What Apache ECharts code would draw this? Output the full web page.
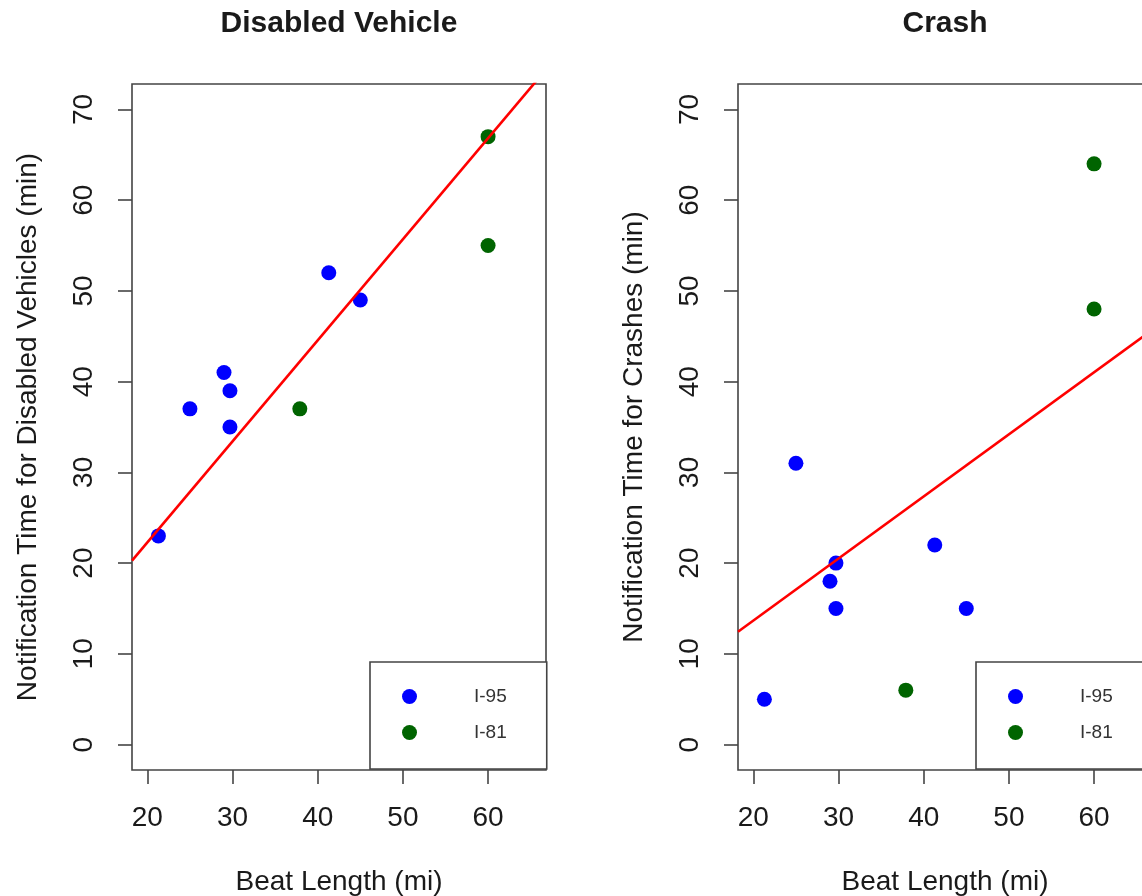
<!DOCTYPE html>
<html>
<head>
<meta charset="utf-8">
<title>Notification Time vs Beat Length</title>
<script src="https://cdn.jsdelivr.net/npm/echarts@6/dist/echarts.min.js"></script>
<style>
  html, body { margin: 0; padding: 0; background: #ffffff; }
  #chart { width: 1142px; height: 896px; }
</style>
</head>
<body>
<div id="chart"></div>
<script>
// Beat-level observations (one entry per patrol beat)
const beatLength   = [21.3, 25, 29, 29.7, 29.7, 41.3, 45, 37.9, 60, 60];
const route        = ['I-95', 'I-95', 'I-95', 'I-95', 'I-95', 'I-95', 'I-95', 'I-81', 'I-81', 'I-81'];
const disabledTime = [23, 37, 41, 39, 35, 52, 49, 37, 67, 55];
const crashTime    = [5, 31, 18, 20, 15, 22, 15, 6, 64, 48];

// Axis limits and tick labels
const xLimits = [20, 65];
const yLimits = [0, 70];
const xTicks = [20, 30, 40, 50, 60];
const yTicks = [0, 10, 20, 30, 40, 50, 60, 70];

const routes = ['I-95', 'I-81'];
const routeColors = { 'I-95': '#0000ff', 'I-81': '#006400' };

const panels = [
  { title: 'Disabled Vehicle', yName: 'Notification Time for Disabled Vehicles (min)', values: disabledTime, left: 132 },
  { title: 'Crash', yName: 'Notification Time for Crashes (min)', values: crashTime, left: 738 }
];

const FONT = '"Liberation Sans", Arial, Helvetica, sans-serif';
const INK = '#1a1a1a';
const FRAME = '#444444';
const PLOT_TOP = 84, PLOT_W = 414, PLOT_H = 686;

// Pad limits by 4% on each side, like a classic statistics plot
function padded(lim) {
  const d = (lim[1] - lim[0]) * 0.04;
  return [lim[0] - d, lim[1] + d];
}
const xRange = padded(xLimits);
const yRange = padded(yLimits);

// Least-squares slope for a line through the origin
function originSlope(xs, ys) {
  let sxy = 0, sxx = 0;
  for (let i = 0; i < xs.length; i++) { sxy += xs[i] * ys[i]; sxx += xs[i] * xs[i]; }
  return sxy / sxx;
}

const grids = [], xAxes = [], yAxes = [], series = [], titles = [], legends = [];

panels.forEach((p, gi) => {
  grids.push({
    left: p.left, top: PLOT_TOP, width: PLOT_W, height: PLOT_H,
    containLabel: false, outerBoundsMode: 'none',
    show: true, borderColor: FRAME, borderWidth: 1.6, backgroundColor: 'transparent'
  });
  xAxes.push({
    type: 'value', gridIndex: gi, min: xRange[0], max: xRange[1], position: 'bottom',
    name: 'Beat Length (mi)', nameLocation: 'middle', nameGap: 98,
    nameTextStyle: { fontFamily: FONT, fontSize: 28, color: INK },
    axisLine: { show: false, onZero: false },
    splitLine: { show: false },
    axisTick: { show: true, inside: false, length: 14, customValues: xTicks, lineStyle: { color: FRAME, width: 1.6 } },
    axisLabel: { customValues: xTicks, margin: 34, fontFamily: FONT, fontSize: 28, color: INK }
  });
  yAxes.push({
    type: 'value', gridIndex: gi, min: yRange[0], max: yRange[1], position: 'left',
    name: p.yName, nameLocation: 'middle', nameGap: 90, nameRotate: 90,
    nameTextStyle: { fontFamily: FONT, fontSize: 28, color: INK },
    axisLine: { show: false, onZero: false },
    splitLine: { show: false },
    axisTick: { show: true, inside: false, length: 14, customValues: yTicks, lineStyle: { color: FRAME, width: 1.6 } },
    axisLabel: { customValues: yTicks, rotate: 90, margin: 34, fontFamily: FONT, fontSize: 28, color: INK }
  });

  routes.forEach(r => {
    const pts = [];
    beatLength.forEach((x, i) => { if (route[i] === r) pts.push([x, p.values[i]]); });
    series.push({
      type: 'scatter', name: r, xAxisIndex: gi, yAxisIndex: gi,
      data: pts, symbol: 'circle', symbolSize: 15,
      itemStyle: { color: routeColors[r], opacity: 1 },
      emphasis: { disabled: true }, z: 3
    });
  });

  // Fitted line across the full plotting region
  const b = originSlope(beatLength, p.values);
  series.push({
    type: 'line', name: 'fit', xAxisIndex: gi, yAxisIndex: gi,
    data: [[xRange[0], b * xRange[0]], [xRange[1], b * xRange[1]]],
    showSymbol: false, symbol: 'none', clip: true, silent: true,
    lineStyle: { color: '#ff0000', width: 2.6 }, z: 4
  });

  titles.push({
    text: p.title, left: p.left + PLOT_W / 2, top: 9, textAlign: 'center', padding: 0,
    textStyle: { fontFamily: FONT, fontSize: 30, fontWeight: 'bold', color: INK }
  });

  legends.push({
    data: routes, orient: 'vertical', left: p.left + 238, top: 662,
    padding: [25, 40, 27, 32], itemGap: 17, itemWidth: 15, itemHeight: 15,
    icon: 'circle', selectedMode: false,
    backgroundColor: '#ffffff', borderColor: FRAME, borderWidth: 1.6, borderRadius: 0,
    textStyle: { fontFamily: FONT, fontSize: 19, color: '#333333', lineHeight: 15, padding: [0, 0, 0, 52] }
  });
});

const chart = echarts.init(document.getElementById('chart'), null, { renderer: 'canvas' });
chart.setOption({
  backgroundColor: '#ffffff',
  animation: false,
  title: titles,
  legend: legends,
  grid: grids,
  xAxis: xAxes,
  yAxis: yAxes,
  series: series
});
</script>
</body>
</html>
